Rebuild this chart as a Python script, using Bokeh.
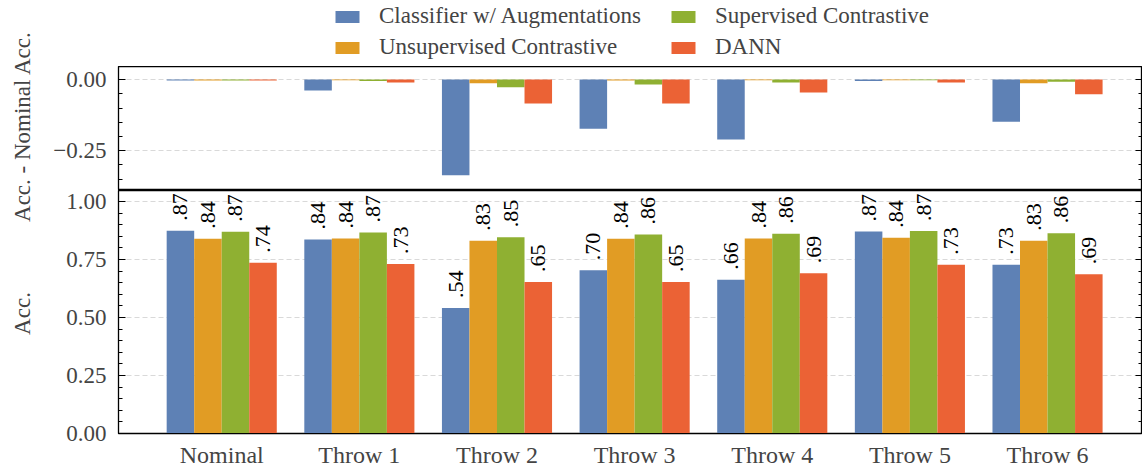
import math
from bokeh.plotting import figure
from bokeh.models import (Range1d, FixedTicker, LinearAxis, Legend, LegendItem, Label,
                          CustomJSTickFormatter, PrintfTickFormatter, SingleIntervalTicker)
from bokeh.layouts import column, row
from bokeh.embed import file_html
from bokeh.resources import INLINE
from bokeh.core.properties import value

categories = ["Nominal", "Throw 1", "Throw 2", "Throw 3", "Throw 4", "Throw 5", "Throw 6"]
methods = ["Classifier w/ Augmentations", "Unsupervised Contrastive",
           "Supervised Contrastive", "DANN"]
colors = ["#5E81B5", "#E19C24", "#8FB032", "#EB6235"]

acc_classifier = [0.874, 0.836, 0.541, 0.703, 0.662, 0.870, 0.727]
acc_unsup = [0.839, 0.840, 0.831, 0.839, 0.840, 0.843, 0.830]
acc_sup = [0.869, 0.866, 0.846, 0.857, 0.861, 0.872, 0.863]
acc_dann = [0.736, 0.730, 0.653, 0.653, 0.690, 0.727, 0.686]

diff_classifier = [-0.003, -0.038, -0.336, -0.173, -0.211, -0.005, -0.148]
diff_unsup = [-0.003, -0.002, -0.013, -0.003, -0.002, -0.002, -0.013]
diff_sup = [-0.003, -0.005, -0.027, -0.017, -0.010, -0.002, -0.008]
diff_dann = [-0.003, -0.010, -0.084, -0.084, -0.045, -0.010, -0.052]

top_ylabel = "Acc. - Nominal Acc."
bottom_ylabel = "Acc."

accs = [acc_classifier, acc_unsup, acc_sup, acc_dann]
diffs = [diff_classifier, diff_unsup, diff_sup, diff_dann]

FONT = "Liberation Serif"
TICK_FS = "23px"
LABEL_W = 40
W = 1102
LEG_H = 66
TOP_H = 124
BOT_H = 280
bar_w = 0.2

x_range = Range1d(-0.75, 6.69)


def style(p, ticker, formatter):
    p.outline_line_color = "black"
    p.outline_line_width = 1.3
    p.xgrid.visible = False
    p.ygrid.grid_line_color = "#d9d9d9"
    p.ygrid.grid_line_dash = "5 3"
    p.ygrid.grid_line_width = 1
    p.ygrid.ticker = ticker
    ax = p.yaxis[0]
    ax.ticker = ticker
    ax.formatter = formatter
    ax.major_tick_in = 7
    ax.major_tick_out = 0
    ax.minor_tick_in = 4
    ax.minor_tick_out = 0
    ax.major_tick_line_color = "black"
    ax.minor_tick_line_color = "black"
    ax.axis_line_color = "black"
    ax.major_label_text_font = FONT
    ax.major_label_text_font_size = TICK_FS
    ax.major_label_standoff = 12
    r = LinearAxis(ticker=ticker, formatter=CustomJSTickFormatter(code="return '';"),
                   major_tick_in=7, major_tick_out=0, minor_tick_in=4, minor_tick_out=0,
                   major_label_standoff=0, axis_line_color="black")
    p.add_layout(r, "right")


# ---------- legend strip (proxy bars sit outside its visible y range) ----------
leg = figure(width=W, height=LEG_H, x_range=x_range, y_range=Range1d(5, 6),
             output_backend="svg", toolbar_location=None, x_axis_location=None,
             y_axis_location=None, min_border=0, outline_line_color=None)
leg.grid.visible = False
proxies = []
for j, c in enumerate(colors):
    xs = [i + (j - 1.5) * bar_w for i in range(len(categories))]
    proxies.append(leg.vbar(x=xs, width=bar_w, top=accs[j], bottom=0,
                            fill_color=c, line_color=None))
order = [0, 2, 1, 3]  # two columns, filled column by column
legend = Legend(items=[LegendItem(label=methods[k], renderers=[proxies[k]]) for k in order],
                location=(214, 6), orientation="horizontal", ncols=2,
                glyph_width=30, glyph_height=15, label_standoff=17, spacing=5,
                padding=0, margin=0, border_line_color=None, background_fill_alpha=0,
                label_text_font=FONT, label_text_font_size="23px", label_height=22,
                label_width=284)
leg.add_layout(legend, "center")

# ---------- top panel ----------
top = figure(width=W, height=TOP_H, x_range=x_range, y_range=Range1d(-0.39, 0.046),
             output_backend="svg", toolbar_location=None, x_axis_location=None,
             min_border_top=0, min_border_bottom=0, min_border_left=78, min_border_right=0)
top_ticker = SingleIntervalTicker(interval=0.25, num_minor_ticks=5)
style(top, top_ticker,
      CustomJSTickFormatter(code="return (tick < -1e-9 ? '\u2212' : '') + Math.abs(tick).toFixed(2);"))

for j, c in enumerate(colors):
    xs = [i + (j - 1.5) * bar_w for i in range(len(categories))]
    top.vbar(x=xs, width=bar_w, top=diffs[j], bottom=0, fill_color=c, line_color=None)

# ---------- bottom panel ----------
bot = figure(width=W, height=BOT_H, x_range=x_range, y_range=Range1d(0, 1.047),
             output_backend="svg", toolbar_location=None,
             min_border_top=0, min_border_left=78, min_border_right=0, min_border_bottom=33)
bot_ticker = SingleIntervalTicker(interval=0.25, num_minor_ticks=5)
style(bot, bot_ticker, PrintfTickFormatter(format="%.2f"))

xa = bot.xaxis[0]
xa.ticker = FixedTicker(ticks=list(range(len(categories))))
xa.major_label_overrides = {i: c for i, c in enumerate(categories)}
xa.major_tick_in = 0
xa.major_tick_out = 0
xa.minor_tick_in = 0
xa.minor_tick_out = 0
xa.axis_line_color = "black"
xa.major_label_text_font = FONT
xa.major_label_text_font_size = "24px"
xa.major_label_standoff = 8

for j, c in enumerate(colors):
    xs = [i + (j - 1.5) * bar_w for i in range(len(categories))]
    bot.vbar(x=xs, width=bar_w, top=accs[j], bottom=0, fill_color=c, line_color=None)
    labels = ["." + f"{v:.2f}".split(".")[1] for v in accs[j]]
    bot.text(x=xs, y=accs[j], text=labels, angle=math.pi / 2, text_align="left",
             text_baseline="middle", y_offset=-10, text_font=value(FONT),
             text_font_size="22px", text_color="black")

# ---------- y-axis titles column ----------
H = LEG_H + TOP_H + BOT_H
lab = figure(width=LABEL_W, height=H, x_range=Range1d(0, LABEL_W), y_range=Range1d(H, 0),
             output_backend="svg", toolbar_location=None, x_axis_location=None,
             y_axis_location=None, min_border=0, outline_line_color=None)
lab.grid.visible = False
lab.add_layout(Label(x=22, y=126, text=top_ylabel, angle=math.pi / 2, text_align="center",
                     text_baseline="middle", text_font=FONT, text_font_size="23px"))
lab.add_layout(Label(x=22, y=313, text=bottom_ylabel, angle=math.pi / 2, text_align="center",
                     text_baseline="middle", text_font=FONT, text_font_size="23px"))

layout = row(lab, column(leg, top, bot, spacing=0), spacing=0)
open("out.html", "w").write(file_html(layout, INLINE))
